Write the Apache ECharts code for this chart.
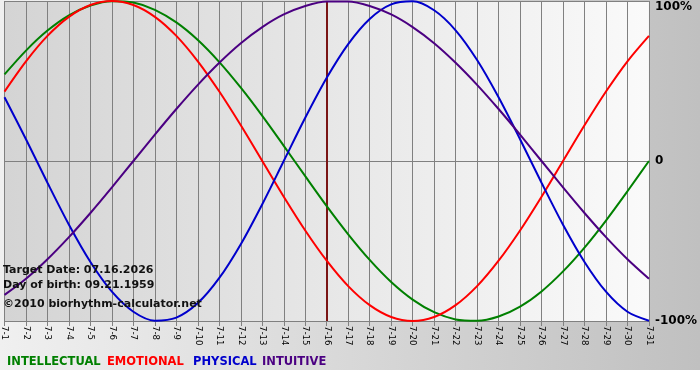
<!DOCTYPE html>
<html>
<head>
<meta charset="utf-8">
<script src="https://cdn.jsdelivr.net/npm/echarts@6/dist/echarts.min.js"></script>
<style>
html,body{margin:0;padding:0;background:#ffffff;}
#c{width:700px;height:370px;}
</style>
</head>
<body>
<div id="c"></div>
<script>
var days = ['7-1','7-2','7-3','7-4','7-5','7-6','7-7','7-8','7-9','7-10','7-11','7-12','7-13','7-14','7-15','7-16','7-17','7-18','7-19','7-20','7-21','7-22','7-23','7-24','7-25','7-26','7-27','7-28','7-29','7-30','7-31'];
var intellectual = [54.1,69.0,81.5,91.0,97.2,99.9,99.0,94.5,86.6,75.6,61.8,45.8,28.2,9.5,-9.5,-28.2,-45.8,-61.8,-75.6,-86.6,-94.5,-99.0,-99.9,-97.2,-91.0,-81.5,-69.0,-54.1,-37.2,-18.9,0];
var emotional = [43.4,62.3,78.2,90.1,97.5,100,97.5,90.1,78.2,62.3,43.4,22.3,0,-22.3,-43.4,-62.3,-78.2,-90.1,-97.5,-100,-97.5,-90.1,-78.2,-62.3,-43.4,-22.3,0,22.3,43.4,62.3,78.2];
var physical = [39.8,13.6,-13.6,-39.8,-63.1,-81.7,-94.2,-99.8,-97.9,-88.8,-73.1,-52.0,-27.0,0,27.0,52.0,73.1,88.8,97.9,99.8,94.2,81.7,63.1,39.8,13.6,-13.6,-39.8,-63.1,-81.7,-94.2,-99.8];
var intuitive = [-83.7,-73.6,-61.4,-47.6,-32.5,-16.5,0,16.5,32.5,47.6,61.4,73.6,83.7,91.6,96.9,99.7,99.7,96.9,91.6,83.7,73.6,61.4,47.6,32.5,16.5,0,-16.5,-32.5,-47.6,-61.4,-73.6];
var seriesNames = ['INTELLECTUAL','EMOTIONAL','PHYSICAL','INTUITIVE'];
var seriesColors = ['#008000','#ff0000','#0000cc','#4b0082'];
var targetDay = '7-16';
var infoLines = ['Target Date: 07.16.2026','Day of birth: 09.21.1959','\u00a92010 biorhythm-calculator.net'];

var chart = echarts.init(document.getElementById('c'), null, {renderer:'canvas'});
var dataSets = [intellectual, emotional, physical, intuitive];
var series = dataSets.map(function(d, i){
  var s = {
    name: seriesNames[i], type:'line', data:d, smooth:0.3, symbol:'none',
    lineStyle:{color:seriesColors[i], width:2}, itemStyle:{color:seriesColors[i]},
    z: 3
  };
  if (i === 0) {
    s.markLine = {
      silent:true, symbol:['none','none'], label:{show:false},
      lineStyle:{color:'#7a1515', width:2, type:'solid'},
      data:[{xAxis:targetDay}], z:2
    };
  }
  return s;
});
var font = 'Verdana, "DejaVu Sans", sans-serif';
var legendLeft = [7,107,193,262];
var graphics = infoLines.map(function(t,i){
  return {type:'text', left:3, top:[265,280,299][i], z:100,
    style:{text:t, fill:'#111', font:'bold 11px ' + font}};
});
seriesNames.forEach(function(n,i){
  graphics.push({type:'text', left:legendLeft[i], top:356, z:100,
    style:{text:n, fill:seriesColors[i], font:'bold 11.5px ' + font}});
});
var option = {
  animation:false,
  backgroundColor: new echarts.graphic.LinearGradient(0,0,1,0,[{offset:0,color:'#f0f0f0'},{offset:1,color:'#c0c0c0'}]),
  grid:{left:1,right:49,top:1,bottom:49,show:true,borderWidth:0,
    backgroundColor:new echarts.graphic.LinearGradient(0,0,1,0,[{offset:0,color:'#d4d4d4'},{offset:1,color:'#fafafa'}])},
  xAxis:{
    type:'category', data:days, boundaryGap:false,
    axisLine:{show:true, onZero:false, lineStyle:{color:'#808080'}},
    axisTick:{show:true, length:5, interval:0, lineStyle:{color:'#808080'}},
    axisLabel:{interval:0, rotate:-90, margin:5, fontSize:8.5, color:'#000', fontFamily:font},
    splitLine:{show:true, interval:0, lineStyle:{color:'#808080', width:1}}
  },
  yAxis:{
    type:'value', min:-100, max:100, interval:100, position:'right',
    axisLine:{show:false}, axisTick:{show:false},
    axisLabel:{margin:6, color:'#000', fontFamily:font, fontWeight:'bold', fontSize:12,
      formatter:function(v){ if(v===100) return '{t|100%}'; return v===0?'0':v+'%'; },
      rich:{t:{padding:[12,0,0,0], color:'#000', fontFamily:font, fontWeight:'bold', fontSize:12}}},
    splitLine:{show:true, lineStyle:{color:'#808080', width:1}}
  },
  graphic: graphics,
  series: series
};
chart.setOption(option);
</script>
</body>
</html>
